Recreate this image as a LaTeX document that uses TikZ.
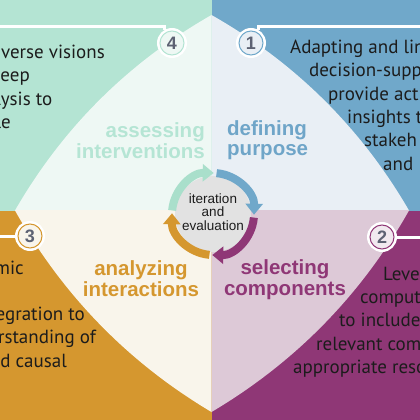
\documentclass[tikz,border=0pt]{standalone}
\usepackage{fontspec}
\setmainfont{PT Sans}
\newfontfamily\arialf{Liberation Sans}
\usetikzlibrary{arrows.meta}
\definecolor{mintD}{HTML}{B4E4D3}
\definecolor{mintL}{HTML}{EEF8F4}
\definecolor{mintT}{HTML}{B5E5D4}
\definecolor{mintA}{HTML}{A9DFCB}
\definecolor{blueD}{HTML}{70A8CA}
\definecolor{blueL}{HTML}{E9EFF5}
\definecolor{blueT}{HTML}{6FA5C8}
\definecolor{orD}{HTML}{D5972F}
\definecolor{orL}{HTML}{F9F5EB}
\definecolor{puD}{HTML}{8F3776}
\definecolor{puL}{HTML}{DDC9D7}
\definecolor{numgrey}{HTML}{5D6273}
\definecolor{hubgrey}{HTML}{E2E2E2}
\definecolor{bodytxt}{HTML}{1C1C1C}
\tikzset{
  body/.style={font=\fontsize{19}{23}\selectfont, text=bodytxt, inner sep=0pt},
  lab/.style={font=\arialf\bfseries\fontsize{20.5}{21}\selectfont, inner sep=0pt},
  hubtxt/.style={font=\arialf\fontsize{13.5}{13.5}\selectfont, text=bodytxt, inner sep=0pt, anchor=base},
  numc/.style={circle, minimum size=27pt, inner sep=0pt, line width=3pt, draw=white,
    font=\arialf\bfseries\fontsize{18}{18}\selectfont, text=numgrey},
  wline/.style={draw=white, line width=3pt},
  arr/.style={line width=8pt, -{Triangle[width=17pt,length=11pt]}}
}
\begin{document}
\begin{tikzpicture}[x=1pt,y=-1pt]
\useasboundingbox (0,0) rectangle (420,420);
\clip (0,0) rectangle (420,420);
% dark quadrants
\fill[mintD] (0,0) rectangle (211.5,210.5);
\fill[blueD] (211.5,0) rectangle (420,210.5);
\fill[orD] (0,210.5) rectangle (211.5,420);
\fill[puD] (211.5,210.5) rectangle (420,420);
% tips of the light shape
\coordinate (T) at (211.5,15);
\coordinate (L) at (15,210.5);
\coordinate (B) at (211.5,412);
\coordinate (R) at (409,210.5);
\begin{scope}
\clip (0,0) rectangle (211.5,210.5);
\fill[mintL] (T) .. controls (128.3,62.5) and (62.8,127.6) .. (L) .. controls (62.8,295.4) and (128.3,362.5) .. (B) .. controls (295,362.5) and (360.9,295.4) .. (R) .. controls (360.9,127.6) and (295,62.5) .. (T) -- cycle;
\end{scope}
\begin{scope}
\clip (211.5,0) rectangle (420,210.5);
\fill[blueL] (T) .. controls (128.3,62.5) and (62.8,127.6) .. (L) .. controls (62.8,295.4) and (128.3,362.5) .. (B) .. controls (295,362.5) and (360.9,295.4) .. (R) .. controls (360.9,127.6) and (295,62.5) .. (T) -- cycle;
\end{scope}
\begin{scope}
\clip (0,210.5) rectangle (211.5,420);
\fill[orL] (T) .. controls (128.3,62.5) and (62.8,127.6) .. (L) .. controls (62.8,295.4) and (128.3,362.5) .. (B) .. controls (295,362.5) and (360.9,295.4) .. (R) .. controls (360.9,127.6) and (295,62.5) .. (T) -- cycle;
\end{scope}
\begin{scope}
\clip (211.5,210.5) rectangle (420,420);
\fill[puL] (T) .. controls (128.3,62.5) and (62.8,127.6) .. (L) .. controls (62.8,295.4) and (128.3,362.5) .. (B) .. controls (295,362.5) and (360.9,295.4) .. (R) .. controls (360.9,127.6) and (295,62.5) .. (T) -- cycle;
\end{scope}
% number circles
\node[numc, fill=mintL] (n4) at (172,43) {4};
\node[numc, fill=blueL] (n1) at (251,43) {1};
\node[numc, fill=orL] (n3) at (30,236) {3};
\node[numc, fill=puL!40!white] (n2) at (382,237) {2};
\draw[mintD, line width=1pt] (n4) circle[radius=12];
\draw[blueD, line width=1pt] (n1) circle[radius=12];
\draw[orD, line width=1pt] (n3) circle[radius=12];
\draw[puD, line width=1pt] (n2) circle[radius=12];
% white lines
\coordinate (w4) at (0,27);
\coordinate (w1) at (420,27);
\coordinate (w3) at (0,236);
\coordinate (w2) at (420,237);
\draw[wline] (w4) -- (n4.120 |- w4) -- (n4.120);
\draw[wline] (w1) -- (n1.60 |- w1) -- (n1.60);
\draw[wline] (w3) -- (n3.west);
\draw[wline] (n2.east) -- (w2);
% body text, top left
\node[body, anchor=base east] (tl1) at (105,58.3) {iverse visions};
\node[body, anchor=base east] (tl2) at (30,81.7) {eep};
\node[body, anchor=base east] (tl3) at (52.5,105) {lysis to};
\node[body, anchor=base east] (tl4) at (11,128.3) {le};
% top right
\node[body, anchor=base west] (tr1) at (290,53.3) {Adapting and lin};
\node[body, anchor=base west] (tr2) at (309,76.7) {decision-supp};
\node[body, anchor=base west] (tr3) at (328,100) {provide act};
\node[body, anchor=base west] (tr4) at (347,123.3) {insights t};
\node[body, anchor=base west] (tr5) at (364,146.7) {stakeh};
\node[body, anchor=base west] (tr6) at (383,170) {and};
% bottom left
\node[body, anchor=base east] (bl1) at (24,274) {mic};
\node[body, anchor=base east] (bl2) at (85,320) {egration to};
\node[body, anchor=base east] (bl3) at (96,343) {rstanding of};
\node[body, anchor=base east] (bl4) at (67,367) {d causal};
% bottom right
\node[body, anchor=base west] (br1) at (383,280) {Leve};
\node[body, anchor=base west] (br2) at (360,303) {comput};
\node[body, anchor=base west] (br3) at (339,326.5) {to include};
\node[body, anchor=base west] (br4) at (316,350) {relevant com};
\node[body, anchor=base west] (br5) at (293,373.3) {appropriate reso};
% stage labels
\node[lab, text=mintT, anchor=base east] (a1) at (205,137) {assessing};
\node[lab, text=mintT, anchor=base east] (a2) at (205,158) {interventions};
\node[lab, text=blueT, anchor=base west] (d1) at (227,135) {defining};
\node[lab, text=blueT, anchor=base west] (d2) at (227,155) {purpose};
\node[lab, text=orD, anchor=base] (z1) at (141,275) {analyzing};
\node[lab, text=orD, anchor=base] (z2) at (141,296) {interactions};
\node[lab, text=puD, anchor=base] (s1) at (285,274) {selecting};
\node[lab, text=puD, anchor=base] (s2) at (285,295) {components};
% hub
\coordinate (ctr) at (213,214);
\node[circle, fill=hubgrey, minimum size=76pt, inner sep=0pt] (hub) at (ctr) {};
\draw[arr, mintA] (ctr) ++(-175:41) arc[start angle=-175, end angle=-89, radius=41];
\draw[arr, blueD] (ctr) ++(-85:41) arc[start angle=-85, end angle=1, radius=41];
\draw[arr, puD] (ctr) ++(5:41) arc[start angle=5, end angle=91, radius=41];
\draw[arr, orD] (ctr) ++(95:41) arc[start angle=95, end angle=181, radius=41];
\node[hubtxt] (h1) at (213,203.3) {iteration};
\node[hubtxt] (h2) at (213,216.7) {and};
\node[hubtxt] (h3) at (213,230) {evaluation};
\end{tikzpicture}
\end{document}
